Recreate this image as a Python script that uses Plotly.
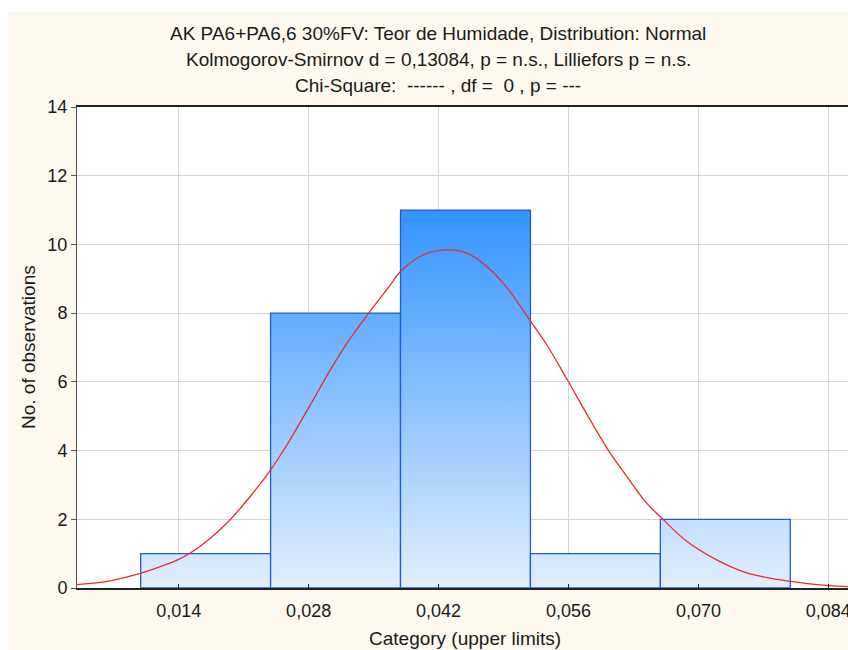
import plotly.graph_objects as go

# ---- data ----
bin_edges = [0.0099, 0.0239, 0.0379, 0.0519, 0.0659, 0.0799]
counts = [1, 8, 11, 1, 2]

curve_x = [0.00304, 0.00663, 0.00994, 0.01180, 0.01382, 0.01525, 0.01741, 0.01920, 0.02172,
           0.02391, 0.02567, 0.02818, 0.03034, 0.03214, 0.03447, 0.03680, 0.03789,
           0.04037, 0.04289, 0.04504, 0.04719, 0.04934, 0.05193, 0.05366, 0.05598,
           0.05832, 0.06048, 0.06228, 0.06443, 0.06622, 0.06874, 0.07197, 0.07521,
           0.07991, 0.08400, 0.08612]
curve_y = [0.10, 0.21, 0.43, 0.60, 0.81, 1.02, 1.45, 1.89, 2.67,
           3.44, 4.17, 5.33, 6.35, 7.13, 8.00, 8.82, 9.21,
           9.70, 9.84, 9.75, 9.36, 8.75, 7.76, 7.08, 6.01,
           4.90, 3.93, 3.25, 2.47, 1.99, 1.36, 0.82, 0.44,
           0.19, 0.07, 0.04]

title_lines = [
    "AK PA6+PA6,6 30%FV: Teor de Humidade, Distribution: Normal",
    "Kolmogorov-Smirnov d = 0,13084, p = n.s., Lilliefors p = n.s.",
    "Chi-Square:  ------ , df =  0 , p = ---",
]
x_title = "Category (upper limits)"
y_title = "No. of observations"

# ---- layout constants ----
W, H = 848, 650
ML, MR, MT, MB = 77, 0, 107, 62
PW, PH = W - ML - MR, H - MT - MB
FONT = "Liberation Sans, Arial, sans-serif"
CREAM = "#FDF9EF"
TXT = "#1a1a1a"


def px_x(p):
    return (p - ML) / PW


def px_y(p):
    return (H - MB - p) / PH


fig = go.Figure()

ymax_bar = max(counts)
for i, c in enumerate(counts):
    x0, x1 = bin_edges[i], bin_edges[i + 1]
    fig.add_trace(go.Scatter(
        x=[x0, x0, x1, x1, x0],
        y=[0, c, c, 0, 0],
        mode="lines",
        fill="toself",
        fillgradient=dict(
            type="vertical",
            start=0,
            stop=ymax_bar,
            colorscale=[[0, "rgb(226,239,253)"], [1, "rgb(50,148,255)"]],
        ),
        line=dict(color="#1F5BD6", width=1.3),
        hoverinfo="skip",
        showlegend=False,
    ))

fig.add_trace(go.Scatter(
    x=curve_x, y=curve_y, mode="lines",
    line=dict(color="#F02828", width=1.3, shape="spline", smoothing=1.0),
    hoverinfo="skip", showlegend=False,
))

annotations = []
for line, py in zip(title_lines, [33, 59, 85]):
    annotations.append(dict(
        text=line, xref="paper", yref="paper", x=px_x(438), y=px_y(py),
        xanchor="center", yanchor="middle", showarrow=False,
        font=dict(family=FONT, size=19, color=TXT),
    ))
annotations.append(dict(
    text=x_title, xref="paper", yref="paper", x=px_x(465), y=px_y(638),
    xanchor="center", yanchor="middle", showarrow=False,
    font=dict(family=FONT, size=19, color=TXT),
))
annotations.append(dict(
    text=y_title, xref="paper", yref="paper", x=px_x(28), y=px_y(347),
    xanchor="center", yanchor="middle", showarrow=False, textangle=-90,
    font=dict(family=FONT, size=19, color=TXT),
))

shapes = [
    dict(type="rect", xref="paper", yref="paper", x0=px_x(-5), x1=px_x(W + 5),
         y0=px_y(12), y1=px_y(-5), fillcolor="white", line=dict(width=0), layer="above"),
    dict(type="rect", xref="paper", yref="paper", x0=px_x(-5), x1=px_x(8),
         y0=px_y(H + 5), y1=px_y(-5), fillcolor="white", line=dict(width=0), layer="above"),
]

fig.update_layout(
    width=W, height=H,
    margin=dict(l=ML, r=MR, t=MT, b=MB, pad=0, autoexpand=False),
    paper_bgcolor=CREAM, plot_bgcolor="white",
    separators=", ",
    font=dict(family=FONT, size=18, color=TXT),
    annotations=annotations,
    shapes=shapes,
    xaxis=dict(
        range=[0.00304, 0.08612], tick0=0, dtick=0.014, tickformat=".3f",
        showgrid=True, gridcolor="#D6D6D6", gridwidth=1,
        showline=True, linecolor="#222222", linewidth=2, mirror=True,
        ticks="inside", ticklen=4, tickcolor="#222222",
        zeroline=False, tickfont=dict(family=FONT, size=18, color=TXT),
        ticklabelstandoff=5, ticklabeloverflow="allow", automargin=False,
    ),
    yaxis=dict(
        range=[0, 14], dtick=2, tick0=0,
        showgrid=True, gridcolor="#D6D6D6", gridwidth=1,
        showline=True, linecolor="#555555", linewidth=1,
        ticks="outside", ticklen=5, tickcolor="#555555",
        zeroline=False, tickfont=dict(family=FONT, size=18, color=TXT),
        automargin=False,
    ),
)

fig.write_html("out.html")
